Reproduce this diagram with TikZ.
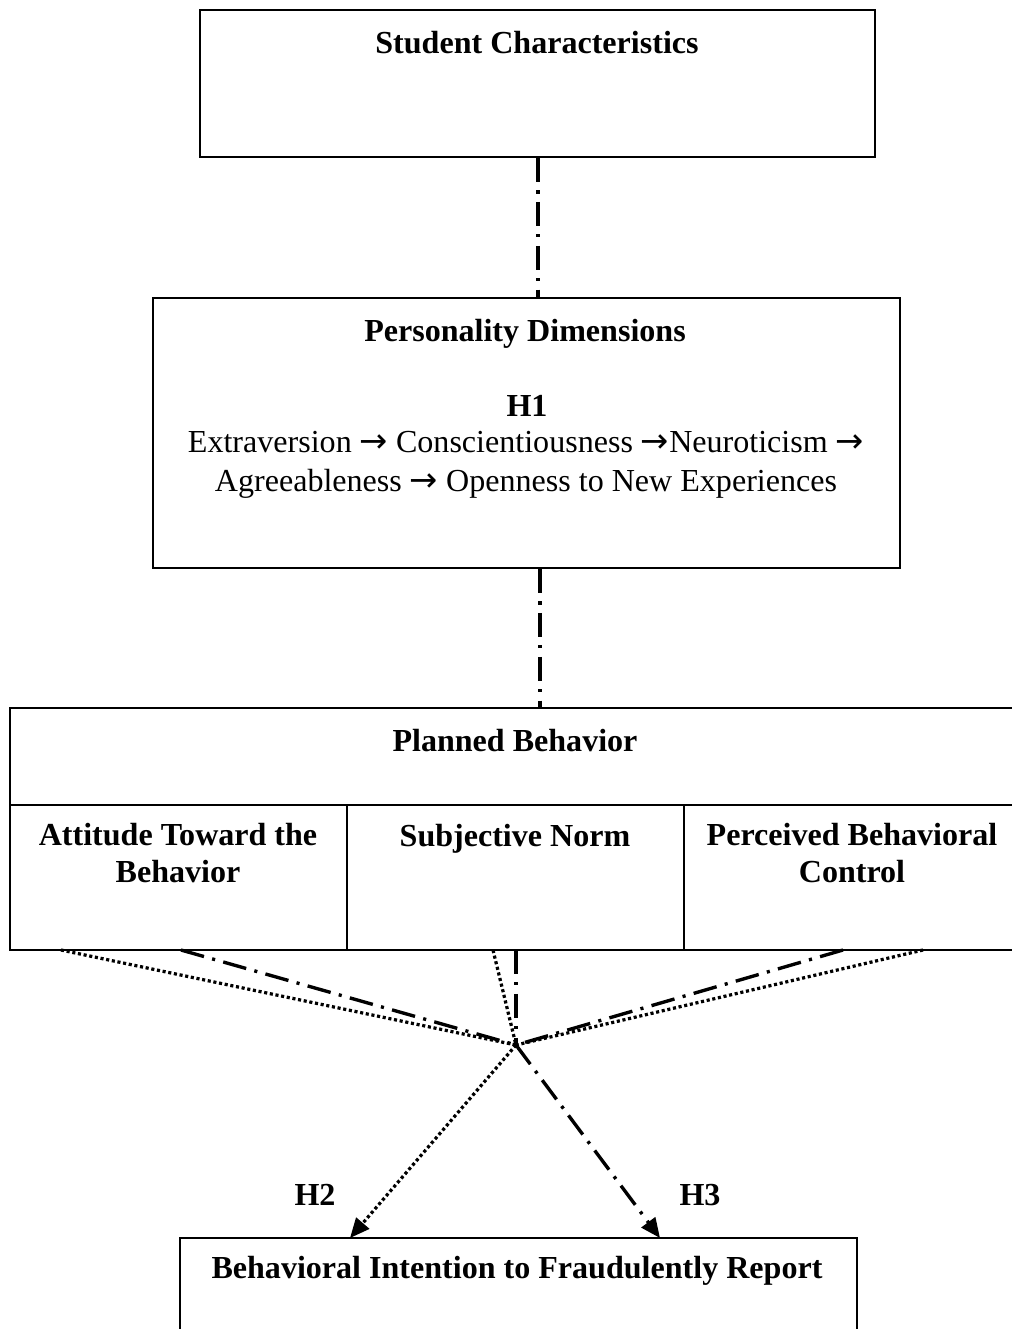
\documentclass[tikz,border=0pt]{standalone}
\usepackage{fontspec}
\setmainfont{Liberation Serif}
\newfontfamily\arrowfont{DejaVu Sans}
\newcommand{\rarr}{{\arrowfont\fontsize{24}{20}\selectfont →}}
\usetikzlibrary{arrows.meta}
\begin{document}
\begin{tikzpicture}[x=0.025cm,y=-0.025cm,
 box/.style={draw,line width=1.5pt,inner sep=0pt},
 ttl/.style={font=\fontsize{22.8}{26}\selectfont\bfseries, anchor=base, align=center, inner sep=0pt},
 body/.style={font=\fontsize{22.8}{27.6}\selectfont, anchor=base, align=center, inner sep=0pt},
 dashdot/.style={line width=2.4pt, dash pattern=on 17pt off 6pt on 2.2pt off 6pt},
 dots/.style={line width=2.3pt, dash pattern=on 2.2pt off 1.9pt},
 tip/.style={-{Triangle[length=14pt,width=12pt]}}]
\useasboundingbox (0,0) rectangle (1012,1329);
% boxes
\node[box, minimum width=16.875cm, minimum height=3.675cm] (sc) at (537.5,83.5) {};
\node[box, minimum width=18.675cm, minimum height=6.75cm] (pd) at (526.5,433) {};
\node[box, minimum width=25.375cm, minimum height=2.425cm] (pb) at (517.5,756.5) {};
\node[box, minimum width=8.425cm, minimum height=3.625cm] (ca) at (178.5,877.5) {};
\node[box, minimum width=8.425cm, minimum height=3.625cm] (cb) at (515.5,877.5) {};
\node[box, minimum width=8.525cm, minimum height=3.625cm] (cc) at (854.5,877.5) {};
\node[box, minimum width=16.925cm, minimum height=2.675cm] (bi) at (518.5,1291.5) {};
% texts
\node[ttl] (sct) at (537,53) {Student Characteristics};
\node[ttl] (pdt) at (525,341) {Personality Dimensions};
\node[ttl] (h1) at (527,416) {H1};
\node[body] (ext) at (526,491) {Extraversion \rarr{} Conscientiousness \rarr{}Neuroticism \rarr\\Agreeableness \rarr{} Openness to New Experiences};
\node[ttl] (pbt) at (515,751) {Planned Behavior};
\node[ttl] (cat) at (178,882) {Attitude Toward the\\Behavior};
\node[ttl] (cbt) at (515,846) {Subjective Norm};
\node[ttl] (cct) at (852,882) {Perceived Behavioral\\Control};
\node[ttl] (h2) at (315,1205) {H2};
\node[ttl] (h3) at (700,1205) {H3};
\node[ttl] (bit) at (517,1278) {Behavioral Intention to Fraudulently Report};
% connectors
\coordinate (k1) at (538,0);
\coordinate (k2) at (540,0);
\draw[dashdot] (sc.south -| k1) -- (pd.north -| k1);
\draw[dashdot] (pd.south -| k2) -- (pb.north -| k2);
\coordinate (x) at (516,1045);
\coordinate (a1) at (61,950);
\coordinate (a2) at (181,950);
\coordinate (b1) at (493,950);
\coordinate (b2) at (516,950);
\coordinate (c2) at (843,950);
\coordinate (c1) at (923,950);
\coordinate (e2) at (350,1238);
\coordinate (e3) at (660,1238);
\draw[dots] (a1) -- (x);
\draw[dashdot] (a2) -- (x);
\draw[dots] (b1) -- (x);
\draw[dashdot] (b2) -- (x);
\draw[dashdot] (c2) -- (x);
\draw[dots] (c1) -- (x);
\draw[dots,tip] (x) -- (e2);
\draw[dashdot,tip] (x) -- (e3);
\end{tikzpicture}
\end{document}
